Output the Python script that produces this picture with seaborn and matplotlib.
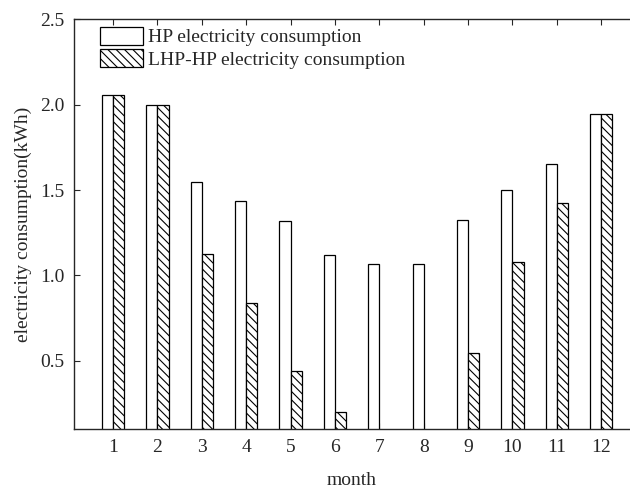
import numpy as np
import pandas as pd
import matplotlib
matplotlib.use('Agg')
import matplotlib.pyplot as plt
import matplotlib.patches as mpatches
import seaborn as sns

months = list(range(1, 13))
hp = [2.06, 2.00, 1.545, 1.435, 1.32, 1.12, 1.067, 1.067, 1.322, 1.50, 1.652, 1.945]
lhp_hp = [2.06, 2.00, 1.128, 0.84, 0.44, 0.20, 0.0, 0.0, 0.543, 1.078, 1.424, 1.945]
series = ['HP electricity consumption', 'LHP-HP electricity consumption']

df = pd.DataFrame({
    'month': months * 2,
    'value': hp + lhp_hp,
    'series': [series[0]] * 12 + [series[1]] * 12,
})

sns.set_style('ticks')
plt.rcParams['font.family'] = ['Liberation Serif', 'DejaVu Serif']
plt.rcParams['font.size'] = 14
plt.rcParams['hatch.linewidth'] = 0.8

fig = plt.figure(figsize=(6.3, 4.91), dpi=100)
ax = fig.add_axes([0.1175, 0.1263, 0.8825, 0.834])

sns.barplot(data=df, x='month', y='value', hue='series', native_scale=True,
            width=0.5, gap=0, dodge=True, errorbar=None, legend=False,
            palette=['white', 'white'], saturation=1,
            edgecolor='black', linewidth=0.9, ax=ax)

for p in ax.containers[1]:
    p.set_hatch('\\\\\\\\')

ax.set_xlim(0.12, 12.65)
ax.set_ylim(0.1, 2.5)
ax.set_xticks(months)
ax.set_yticks([0.5, 1.0, 1.5, 2.0, 2.5])
ax.set_yticklabels(['0.5', '1.0', '1.5', '2.0', '2.5'])
ax.tick_params(axis='both', direction='in', length=4, width=0.8, labelsize=14,
               top=True, right=False, pad=7)
ax.tick_params(axis='x', pad=7)
ax.spines['right'].set_visible(False)
for s in ['left', 'top', 'bottom']:
    ax.spines[s].set_linewidth(1.0)

ax.set_xlabel('month', fontsize=14, labelpad=12)
ax.set_ylabel('electricity consumption(kWh)', fontsize=14, labelpad=6)

handles = [
    mpatches.Patch(facecolor='white', edgecolor='black', linewidth=0.9, label=series[0]),
    mpatches.Patch(facecolor='white', edgecolor='black', linewidth=0.9, hatch='\\\\\\\\', label=series[1]),
]
ax.legend(handles=handles, loc='upper left', bbox_to_anchor=(0.047, 0.982),
          frameon=False, borderpad=0, borderaxespad=0, handlelength=2.2,
          handleheight=1.03, labelspacing=0.15, handletextpad=0.26, fontsize=14)

fig.savefig('out.png', dpi=100)
